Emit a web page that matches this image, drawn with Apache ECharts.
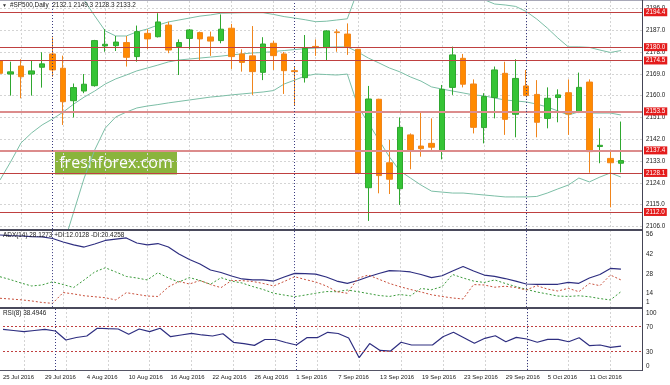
<!DOCTYPE html>
<html><head><meta charset="utf-8">
<script src="https://cdn.jsdelivr.net/npm/echarts@6/dist/echarts.min.js"></script>
<style>html,body{margin:0;padding:0;background:#fff}#c{width:670px;height:385px}</style>
</head><body><div id="c"></div><script>
// ---------- data ----------
const dates = ['25 Jul 2016','26 Jul 2016','27 Jul 2016','28 Jul 2016','29 Jul 2016',
 '1 Aug 2016','2 Aug 2016','3 Aug 2016','4 Aug 2016','5 Aug 2016',
 '8 Aug 2016','9 Aug 2016','10 Aug 2016','11 Aug 2016','12 Aug 2016',
 '15 Aug 2016','16 Aug 2016','17 Aug 2016','18 Aug 2016','19 Aug 2016',
 '22 Aug 2016','23 Aug 2016','24 Aug 2016','25 Aug 2016','26 Aug 2016',
 '29 Aug 2016','30 Aug 2016','31 Aug 2016','1 Sep 2016','2 Sep 2016',
 '5 Sep 2016','6 Sep 2016','7 Sep 2016','8 Sep 2016','9 Sep 2016',
 '12 Sep 2016','13 Sep 2016','14 Sep 2016','15 Sep 2016','16 Sep 2016',
 '19 Sep 2016','20 Sep 2016','21 Sep 2016','22 Sep 2016','23 Sep 2016',
 '26 Sep 2016','27 Sep 2016','28 Sep 2016','29 Sep 2016','30 Sep 2016',
 '3 Oct 2016','4 Oct 2016','5 Oct 2016','6 Oct 2016','7 Oct 2016',
 '10 Oct 2016','11 Oct 2016','12 Oct 2016','13 Oct 2016','14 Oct 2016'];
const openP = [2174.3,2168.9,2172.2,2168.9,2171.7,2177.2,2171.3,2157.9,2161.9,2164.1,
 2180.5,2180.6,2181.9,2176.1,2185.7,2184.3,2189.1,2180.2,2183.6,2186.0,
 2184.2,2182.7,2187.8,2177.2,2176.4,2169.6,2181.6,2177.2,2170.3,2167.4,
 2180.3,2179.8,2186.3,2185.4,2179.1,2122.0,2158.5,2132.3,2121.6,2143.8,
 2139.2,2140.3,2137.3,2163.4,2175.4,2164.8,2146.8,2159.2,2169.2,2152.3,
 2164.0,2160.5,2150.6,2159.2,2161.2,2153.4,2165.6,2139.0,2134.1,2132.1];
const closeP = [2169.2,2169.8,2167.8,2170.2,2173.1,2170.6,2157.5,2163.3,2164.7,2182.7,
 2181.2,2182.1,2175.8,2186.4,2183.4,2190.4,2178.8,2181.9,2187.1,2183.4,
 2182.5,2187.4,2176.1,2173.7,2169.9,2181.3,2176.5,2170.3,2169.9,2179.5,
 2180.0,2186.7,2186.0,2180.2,2127.9,2158.6,2127.0,2125.5,2146.9,2137.6,
 2138.1,2138.7,2162.6,2176.8,2164.7,2146.9,2159.6,2170.6,2150.2,2167.1,
 2160.0,2149.0,2158.9,2160.3,2152.4,2163.4,2136.9,2139.5,2132.3,2133.2];
const lowP = [2168.0,2160.0,2158.9,2160.0,2163.3,2167.8,2147.9,2151.0,2161.0,2163.7,
 2178.1,2178.4,2172.0,2174.0,2179.2,2184.0,2177.5,2168.5,2179.1,2174.7,
 2176.4,2181.6,2171.0,2169.9,2160.3,2166.4,2170.6,2160.7,2156.1,2165.4,
 2176.4,2174.4,2178.1,2176.8,2127.9,2108.3,2119.7,2119.4,2114.9,2129.6,
 2134.8,2137.6,2133.7,2160.3,2163.4,2144.4,2140.3,2150.6,2143.8,2142.8,
 2159.8,2142.8,2146.5,2149.0,2143.8,2152.8,2128.2,2132.1,2113.9,2128.3];
const highP = [2175.0,2174.0,2175.0,2174.3,2177.9,2184.0,2176.5,2165.0,2168.9,2183.0,
 2187.4,2184.6,2184.6,2188.9,2187.4,2194.0,2190.5,2183.2,2187.5,2186.4,
 2186.4,2193.5,2189.6,2179.1,2188.7,2184.1,2182.7,2178.0,2172.0,2185.0,
 2183.2,2187.0,2187.4,2189.8,2179.3,2164.0,2158.7,2141.7,2151.0,2144.4,
 2153.4,2150.6,2164.4,2180.2,2177.2,2166.7,2161.0,2172.0,2174.0,2175.0,
 2170.6,2166.4,2163.4,2162.6,2166.7,2169.5,2166.7,2146.5,2137.6,2149.3];
const bbUpper = [2215,2214,2213,2211,2209,2207,2205,2202.5,2199.4,2192.9,
 2186.7,2184.6,2184.6,2186.3,2187.5,2189.1,2190.4,2191.2,2192.0,2192.8,
 2193.3,2194.0,2194.1,2194.2,2194.2,2194.2,2193.5,2192.6,2192.0,2191.3,
 2190.5,2190.7,2191.2,2191.7,2203.5,2204,2206,2208.5,2210.5,2209.5,
 2208.5,2206.5,2205,2204,2202.5,2201.2,2199.6,2197.8,2197.4,2196.8,
 2194.7,2191.6,2187.9,2183.8,2180.1,2180.1,2179.9,2178.8,2177.8,2178.6];
const bbMiddle = [2125.2,2132.6,2140.5,2144.6,2147.9,2150.4,2153.2,2156.5,2159.4,2161.9,
 2164.8,2166.9,2168.5,2170.2,2171.4,2172.6,2173.9,2174.7,2175.1,2175.5,
 2175.9,2176.3,2176.8,2177.2,2177.6,2177.8,2178.2,2178.6,2179.0,2179.4,
 2179.6,2179.9,2180.1,2180.1,2178.0,2175.5,2173.5,2171.4,2169.8,2167.7,
 2166.0,2163.6,2162.7,2161.9,2161.1,2160.3,2159.9,2159.0,2158.2,2157.8,
 2157.4,2156.5,2155.3,2153.7,2152.0,2153.3,2152.8,2152.8,2152.8,2152.0];
const bbLower = [2055,2058,2062,2068,2075,2085,2098,2112.0,2126.0,2137.6,
 2146.6,2151.2,2153.2,2154.9,2155.7,2156.3,2157.0,2157.6,2158.2,2158.8,
 2159.4,2159.8,2160.3,2160.7,2161.1,2161.5,2162.1,2164.8,2166.4,2168.1,
 2168.9,2168.7,2168.5,2168.9,2155.7,2148.7,2141.7,2134.7,2128.9,2126.0,
 2123.1,2120.6,2120.2,2119.8,2119.8,2119.4,2119.0,2118.6,2118.2,2118.2,
 2118.2,2118.4,2119.8,2121.5,2123.1,2126.0,2124.4,2126.4,2128.1,2126.4];
const adx = [52.5,52.1,51.8,51.4,51.1,50.0,47.5,45.4,43.9,46.1,
 48.6,49.6,50.4,46.8,45.4,46.4,43.9,38.9,35.0,31.8,
 27.5,25.7,23.2,21.1,20.4,20.4,19.6,22.5,25.1,24.9,
 24.6,22.5,19.6,18.0,20.0,22.7,25.0,27.0,26.8,26.1,
 24.3,22.1,23.4,26.8,30.0,26.8,23.9,22.9,21.4,19.6,
 17.5,17.3,17.3,17.3,18.7,18.0,21.8,24.3,28.6,28.1];
const plusDI = [22.7,20.6,18.2,16.1,16.8,19.1,17.1,15.0,20.4,26.1,
 29.1,26.1,22.9,21.8,20.4,25.6,21.8,18.9,22.1,20.0,
 17.3,22.0,19.6,18.2,15.7,13.6,10.9,9.6,8.4,9.6,
 10.9,12.1,12.0,13.2,12.0,10.7,9.3,8.6,10.0,9.1,
 14.3,13.4,15.6,24.3,21.8,19.6,18.6,20.4,17.9,15.7,
 13.7,11.8,10.4,8.9,8.6,9.1,8.4,7.1,6.1,12.0];
const minusDI = [7.3,6.8,6.2,5.4,4.3,3.7,11.4,10.4,9.1,8.4,
 7.7,6.1,11.3,10.1,8.9,8.6,15.4,19.3,17.5,20.0,
 17.1,14.9,20.0,19.9,19.3,17.9,16.1,19.3,22.7,20.7,
 18.9,16.1,12.0,10.9,21.6,23.9,20.9,17.9,15.6,13.6,
 11.8,9.8,8.6,7.5,6.8,17.1,16.8,15.2,15.9,15.0,
 13.2,16.3,13.9,12.5,14.4,12.0,17.9,16.3,23.9,20.4];
const rsi = [65.6,63.7,61.8,63.7,65.6,62.9,48.4,52.4,54.8,67.3,
 66.6,66.1,57.6,66.1,61.8,67.3,53.7,56.5,59.2,56.5,
 54.8,58.5,44.7,42.4,39.7,49.2,49.2,44.4,40.3,52.1,
 52.1,60.8,58.9,51.6,19.8,42.7,31.5,30.6,44.7,40.3,
 40.3,40.3,53.7,60.8,52.1,43.1,51.1,55.3,45.6,52.7,
 50.0,44.7,49.5,49.5,45.6,52.1,39.2,40.3,36.6,38.5];
const levels = [2194.4, 2180.0, 2174.5, 2153.5, 2137.4, 2128.1, 2112.0];
const softLevels = [2153.5, 2137.4];
const lastPrice = 2133.2;
const priceTicks = [2106,2115,2124,2133,2142,2151,2160,2169,2178,2187,2196];
const adxTicks = [1,14,28,42,56];
const rsiTicks = [0,30,70,100];
const rsiLevels = [70,30];
const monthStarts = ['1 Aug 2016','1 Sep 2016','3 Oct 2016'];
const titleMain = '#SP500,Daily  2132.1 2149.3 2128.3 2133.2';
const titleAdx = 'ADX(14) 28.1273 +DI:12.0128 -DI:20.4258';
const titleRsi = 'RSI(8) 38.4946';
const watermark = 'freshforex.com';

// ---------- chart ----------
const FONT = '"Liberation Sans", Arial, sans-serif';
const cats = dates.concat(['\u200b', '\u200b\u200b']);
const ohlc = dates.map((d, i) => [openP[i], closeP[i], lowP[i], highP[i]]);
const gx = {left: -1, width: 643};
const vGrid = {show: true, interval: (i) => i % 4 === 2, lineStyle: {color: '#d4d4d4', type: [2, 2], width: 1}};
const sepLine = d => ({xAxis: d, lineStyle: {color: '#3a3a80', type: [1, 2], width: 1}, label: {show: false}});
const lblBase = {fontSize: 6.3, color: '#1a1a1a', fontFamily: FONT};

const chart = echarts.init(document.getElementById('c'), null, {renderer: 'canvas'});
chart.setOption({
  animation: false,
  backgroundColor: '#ffffff',
  textStyle: {fontFamily: FONT},
  title: [
    {text: titleMain, left: 10, top: 2.5, padding: 0, textStyle: {...lblBase, fontWeight: 'normal', fontSize: 6.4}},
    {text: '\u25BC', left: 2, top: 3.5, padding: 0, textStyle: {fontSize: 5, color: '#333', fontWeight: 'normal'}},
    {text: titleAdx, left: 3, top: 232.5, padding: 0, textStyle: {...lblBase, fontWeight: 'normal', fontSize: 6.4}},
    {text: titleRsi, left: 3, top: 310.5, padding: 0, textStyle: {...lblBase, fontWeight: 'normal', fontSize: 6.4}}
  ],
  grid: [
    {...gx, top: 1, height: 228},
    {...gx, top: 230.1, height: 77},
    {...gx, top: 308, height: 62}
  ],
  xAxis: [0, 1, 2].map(g => ({
    type: 'category', gridIndex: g, data: cats, boundaryGap: false,
    axisLine: {show: false}, axisTick: {show: false},
    axisLabel: g === 2 ? {show: true, interval: (i) => i % 4 === 0 && i < dates.length, align: 'left',
      margin: 4, ...lblBase, fontSize: 6} : {show: false},
    splitLine: vGrid
  })),
  yAxis: [
    {type: 'value', gridIndex: 0, position: 'right', min: 2104.97, max: 2199.04,
     axisLine: {show: false}, axisTick: {show: false, customValues: priceTicks},
     axisLabel: {customValues: priceTicks, formatter: v => v.toFixed(1), margin: 4, ...lblBase},
     splitLine: {show: true, lineStyle: {color: '#d4d4d4', type: [2, 2], width: 1}}},
    {type: 'value', gridIndex: 1, position: 'right', min: 1, max: 56,
     axisLine: {show: false}, axisTick: {show: false, customValues: adxTicks},
     axisLabel: {customValues: adxTicks, margin: 4, ...lblBase,
       formatter: v => v === 1 ? '{up|1}' : '{dn|' + v + '}',
       rich: {up: {...lblBase, padding: [0, 0, 9, 0]}, dn: {...lblBase, padding: [9, 0, 0, 0]}}},
     splitLine: {show: false}},
    {type: 'value', gridIndex: 2, position: 'right', min: 0, max: 100,
     axisLine: {show: false}, axisTick: {show: false, customValues: rsiTicks},
     axisLabel: {customValues: rsiTicks, margin: 4, ...lblBase,
       formatter: v => v === 100 ? '{dn|100}' : (v === 0 ? '{up|0}' : '{m|' + v + '}'),
       rich: {up: {...lblBase, padding: [0, 0, 7, 0]}, dn: {...lblBase, padding: [10, 0, 0, 0]}, m: {...lblBase, padding: [2, 0, 0, 0]}}},
     splitLine: {show: false}}
  ],
  series: [
    {type: 'line', xAxisIndex: 0, yAxisIndex: 0, data: bbUpper, showSymbol: false, silent: true, z: 1,
     lineStyle: {color: '#7cbea6', width: 1}},
    {type: 'line', xAxisIndex: 0, yAxisIndex: 0, data: bbMiddle, showSymbol: false, silent: true, z: 1,
     lineStyle: {color: '#7cbea6', width: 1}},
    {type: 'line', xAxisIndex: 0, yAxisIndex: 0, data: bbLower, showSymbol: false, silent: true, z: 1,
     lineStyle: {color: '#7cbea6', width: 1}},
    {type: 'candlestick', xAxisIndex: 0, yAxisIndex: 0, data: ohlc, barWidth: 6, z: 3,
     itemStyle: {color: '#35c435', color0: '#ff8a00', borderColor: '#2fa72f', borderColor0: '#f0851c', borderWidth: 1},
     markLine: {
       symbol: ['none', 'none'], silent: true, animation: false,
       data: levels.map(v => ({
         yAxis: v,
         lineStyle: softLevels.includes(v) ? {color: '#dc8c8c', width: 2, type: 'solid'} : {color: '#bf4040', width: 1, type: 'solid'},
         label: {show: true, position: 'end', distance: 2, formatter: p => Number(p.value).toFixed(1),
           ...lblBase, color: '#ffffff', backgroundColor: '#e41c1c', padding: [1.5, 2, 0.5, 2]}
       })).concat([{
         yAxis: lastPrice, lineStyle: {width: 0, opacity: 0},
         label: {show: true, position: 'end', distance: 2, formatter: p => Number(p.value).toFixed(1),
           ...lblBase, color: '#ffffff', backgroundColor: '#0c1a6e', padding: [1.5, 2, 0.5, 2]}
       }]).concat(monthStarts.map(sepLine))
     }},
    {type: 'line', xAxisIndex: 1, yAxisIndex: 1, data: adx, showSymbol: false, silent: true,
     lineStyle: {color: '#2e2e80', width: 1.2},
     markLine: {symbol: ['none', 'none'], silent: true, animation: false, data: monthStarts.map(sepLine)}},
    {type: 'line', xAxisIndex: 1, yAxisIndex: 1, data: plusDI, showSymbol: false, silent: true,
     lineStyle: {color: '#3a9a3a', width: 1, type: [2, 2]}},
    {type: 'line', xAxisIndex: 1, yAxisIndex: 1, data: minusDI, showSymbol: false, silent: true,
     lineStyle: {color: '#c8503c', width: 1, type: [2, 2]}},
    {type: 'line', xAxisIndex: 2, yAxisIndex: 2, data: rsi, showSymbol: false, silent: true,
     lineStyle: {color: '#2e2e80', width: 1.2},
     markLine: {symbol: ['none', 'none'], silent: true, animation: false,
       data: rsiLevels.map(v => ({yAxis: v, lineStyle: {color: '#c04040', type: [2, 2], width: 1}, label: {show: false}}))
         .concat(monthStarts.map(sepLine))}}
  ],
  graphic: [
    {type: 'rect', shape: {x: 0, y: 0, width: 670, height: 1}, style: {fill: '#a8a8b8'}, z: 100, silent: true},
    {type: 'rect', shape: {x: 0, y: 229, width: 642, height: 2}, style: {fill: '#4a4a5c'}, z: 100, silent: true},
    {type: 'rect', shape: {x: 0, y: 307, width: 642, height: 2}, style: {fill: '#4a4a5c'}, z: 100, silent: true},
    {type: 'rect', shape: {x: 0, y: 370, width: 643, height: 1}, style: {fill: '#555566'}, z: 100, silent: true},
    {type: 'rect', shape: {x: 642, y: 0, width: 1, height: 371}, style: {fill: '#444455'}, z: 100, silent: true},
    {type: 'group', left: 55, top: 151.5, z: 50, children: [
      {type: 'rect', shape: {x: 0, y: 0, width: 122, height: 23}, style: {fill: '#8ab43c'}},
      {type: 'text', x: 61, y: 11.5, style: {text: watermark, fill: '#ffffff', font: '16px "Open Sans", sans-serif',
        textAlign: 'center', textVerticalAlign: 'middle'}}
    ]}
  ]
});
</script></body></html>
